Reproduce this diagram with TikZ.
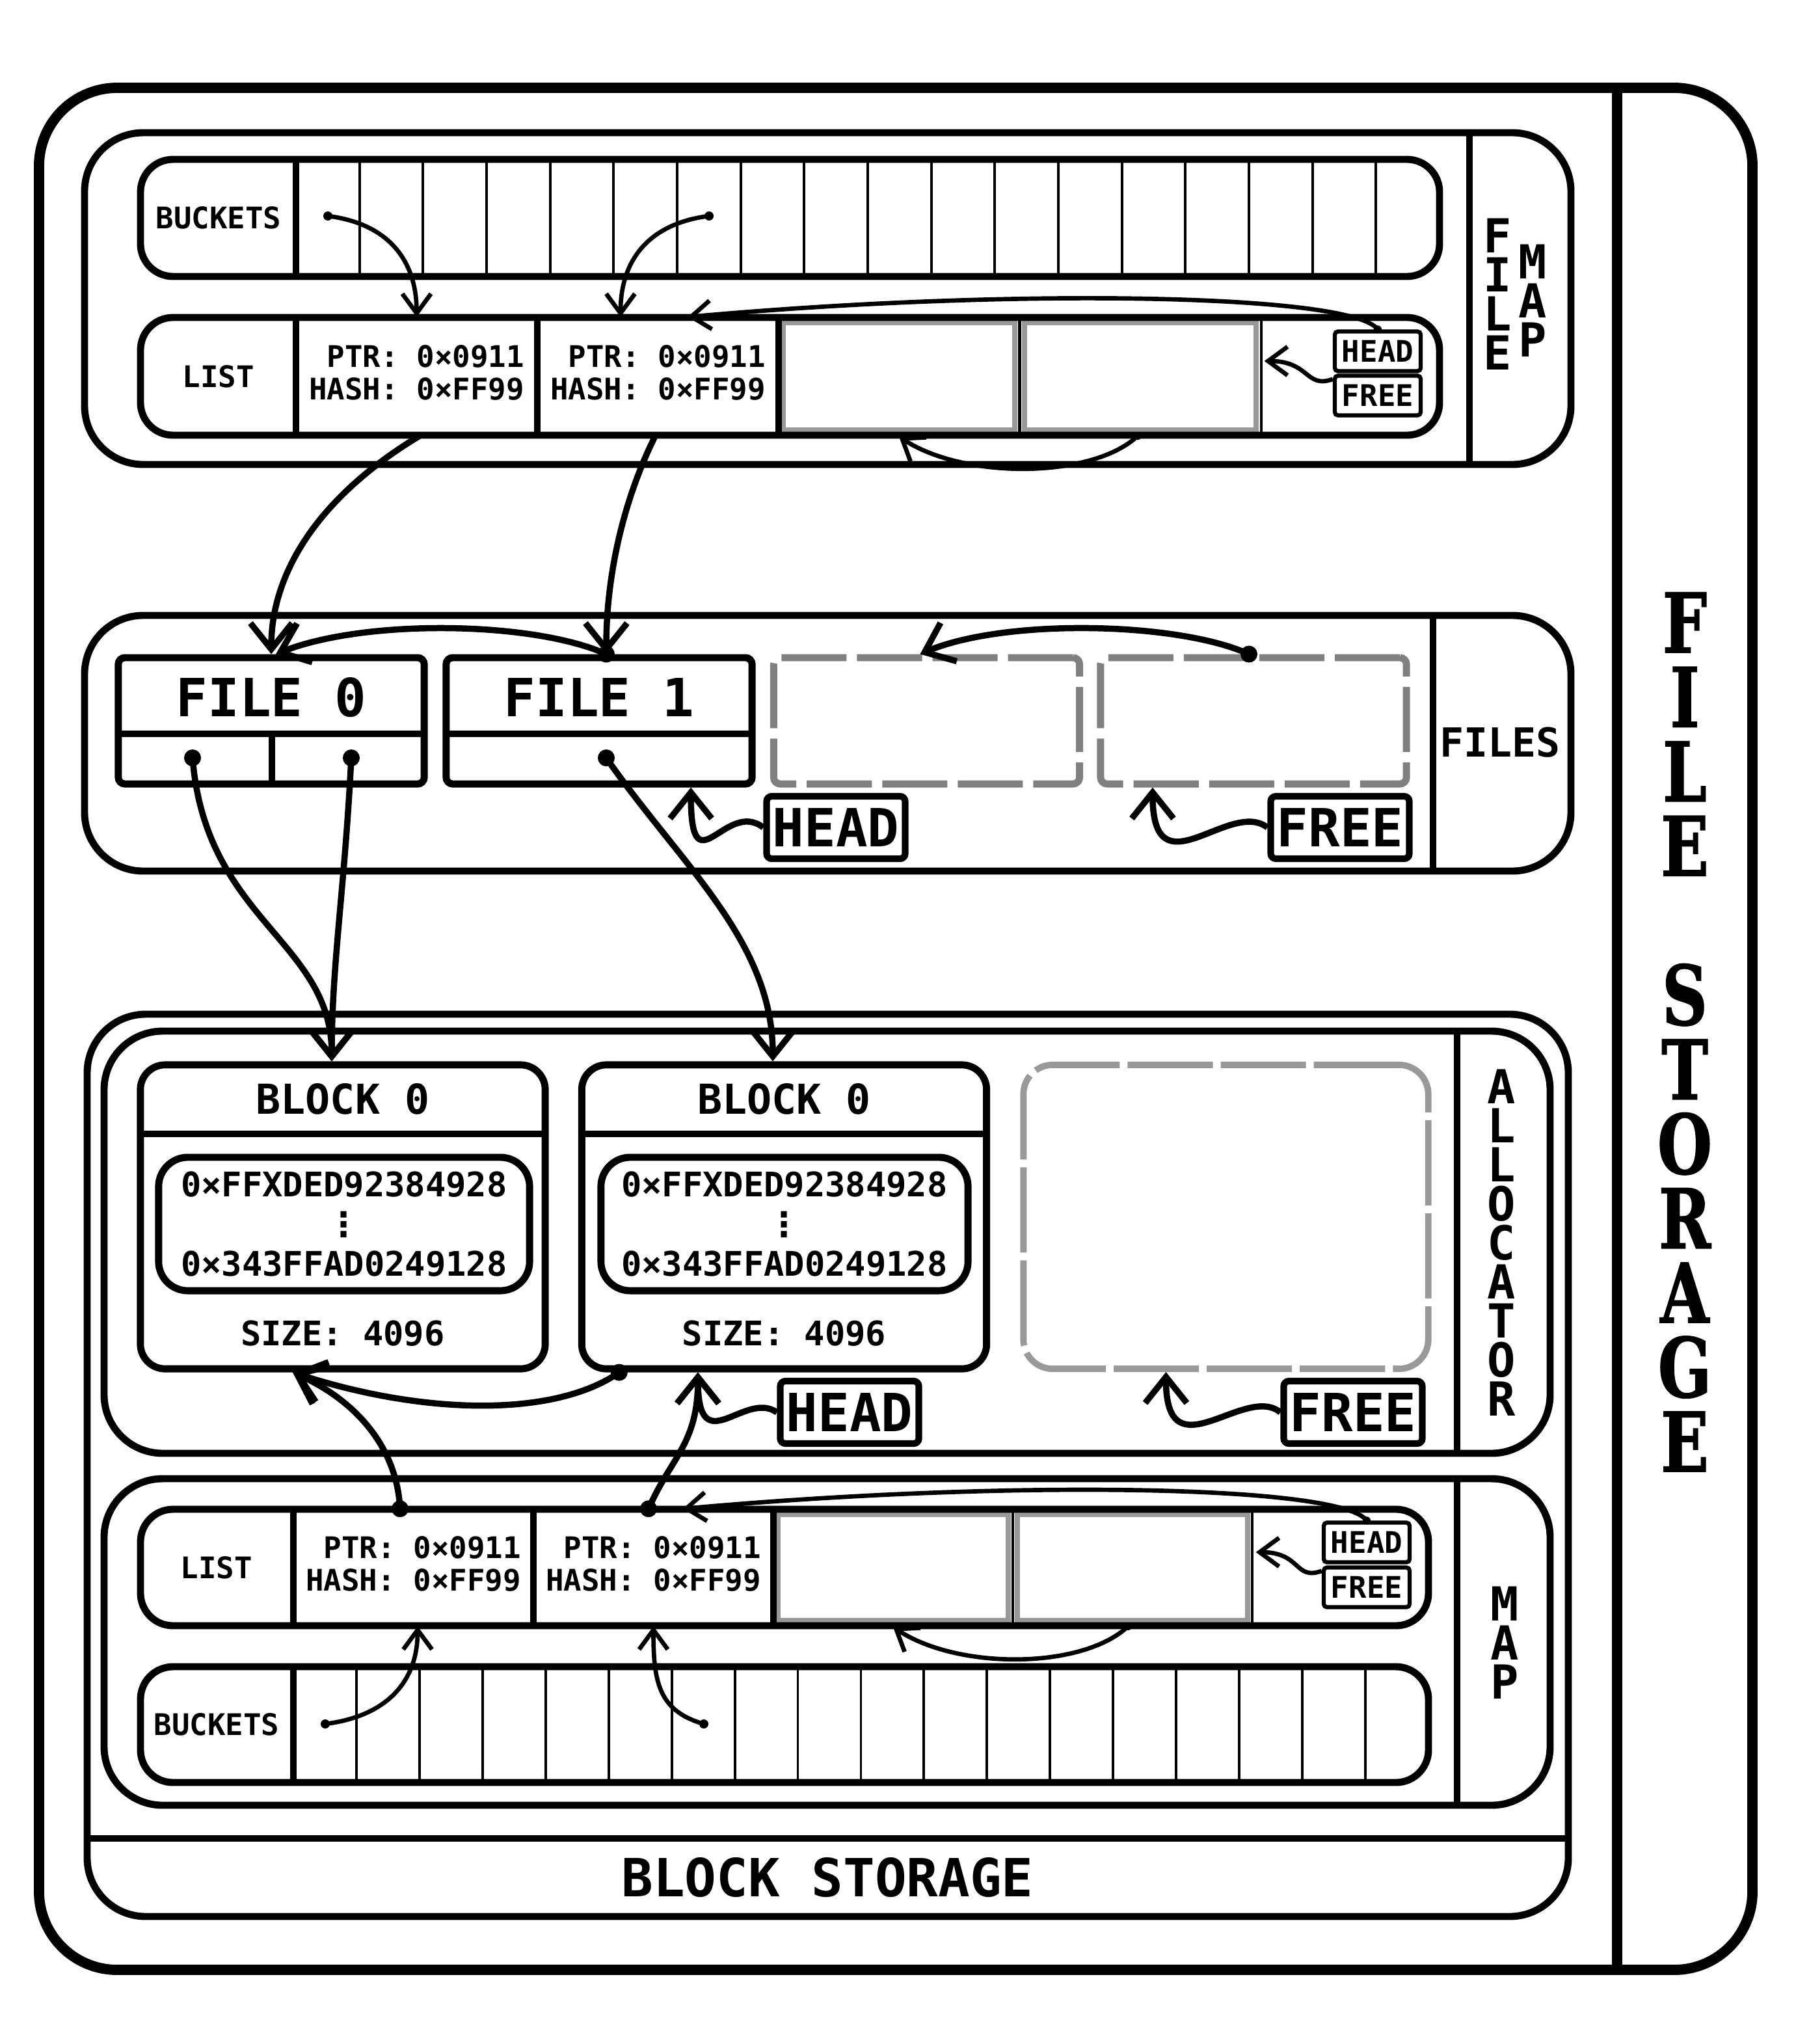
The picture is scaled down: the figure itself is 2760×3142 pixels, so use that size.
\documentclass[tikz,border=0pt]{standalone}
\usepackage{fontspec}
\setmonofont{DejaVu Sans Mono}
\newfontfamily\storagefont{DejaVu Serif}[FakeStretch=0.76,FakeBold=1.2]
\newfontfamily\symfont{DejaVu Sans}
\usetikzlibrary{arrows.meta,calc,positioning}

\newcommand{\fsmall}{\ttfamily\bfseries\fontsize{13}{14.2}\selectfont}
\newcommand{\faddr}{\ttfamily\bfseries\fontsize{14.8}{17.4}\selectfont}
\newcommand{\fblock}{\ttfamily\bfseries\fontsize{18}{20}\selectfont}
\newcommand{\fbig}{\ttfamily\bfseries\fontsize{23}{26}\selectfont}
\newcommand{\fvert}{\ttfamily\bfseries\fontsize{20.5}{17.07}\selectfont}
\newcommand{\flabel}{\ttfamily\bfseries\fontsize{17.5}{20}\selectfont}
\newcommand{\fstore}{\storagefont\bfseries\fontsize{36}{32.55}\selectfont}

\tikzstyle{storebox}=[draw,line width=4.5pt,rounded corners=1.2cm]
\tikzstyle{section}=[draw,line width=3.1pt,rounded corners=0.9cm]
\tikzstyle{strip}=[draw,line width=3.1pt,rounded corners=0.5cm]
\tikzstyle{divider}=[line width=2.6pt]
\tikzstyle{thinsep}=[line width=1.4pt]
\tikzstyle{bucketline}=[line width=1.1pt]
\tikzstyle{cell}=[inner sep=0pt,align=right,text depth=0.12cm,font=\fsmall]
\tikzstyle{slot}=[draw=gray!80,line width=2.3pt,inner sep=0pt]
\tikzstyle{tag}=[draw,line width=1.8pt,rounded corners=0.05cm,inner sep=0pt,minimum width=1.32cm,minimum height=0.61cm,font=\fsmall]
\tikzstyle{bigtag}=[draw,line width=2.9pt,rounded corners=0.08cm,inner sep=0pt,minimum width=2.13cm,minimum height=0.96cm,font=\fbig]
\tikzstyle{filebox}=[draw,line width=3.1pt,rounded corners=0.1cm,inner sep=0pt,minimum width=4.7cm,minimum height=1.94cm]
\tikzstyle{fileslot}=[filebox,draw=gray,dash pattern=on 1cm off 0.16cm]
\tikzstyle{blockbox}=[draw,line width=3.1pt,rounded corners=0.38cm,inner sep=0pt,minimum width=6.22cm,minimum height=4.67cm]
\tikzstyle{blockslot}=[blockbox,draw=gray!80,line width=2.8pt,dash pattern=on 1.31cm off 0.12cm,rounded corners=0.45cm]
\tikzstyle{addr}=[draw,line width=3.1pt,rounded corners=0.45cm,inner sep=0pt,minimum height=2.05cm,align=center,font=\faddr]
\tikzstyle{vlabel}=[inner sep=0pt,anchor=north,align=center,font=\fvert]
\tikzstyle{storelabel}=[inner sep=0pt,anchor=north,align=center,font=\fstore]

\begin{document}
\begin{tikzpicture}[x=0.01cm,y=-0.01cm,
  ptr/.style={line width=1.9pt,-{Straight Barb[length=0.3cm,width=0.44cm]}},
  bigptr/.style={line width=2.7pt,-{Straight Barb[length=0.4cm,width=0.64cm]}}]
\useasboundingbox (0,0) rectangle (2760,3142);

% file storage
\draw[storebox] (60,135) rectangle (2694,3028);
\draw[line width=4.5pt] (2486,135) -- (2486,3028);
\node[storelabel] (storeLbl) at (2590,910) {F\\I\\L\\E\\[1.144cm]S\\T\\O\\R\\A\\G\\E};

% file map
\draw[section] (130,204) rectangle (2415,714);
\draw[line width=3.1pt] (2259,204) -- (2259,714);
\node[vlabel] (fmFileLbl) at (2302,335) {F\\I\\L\\E};
\node[vlabel] (fmMapLbl) at (2356,375) {M\\A\\P};

\draw[strip] (216,245) rectangle (2213,425);
\draw[divider] (455,245) -- (455,425);
\foreach \i in {1,...,17}
  \draw[bucketline] ({455+\i*97.67},245) -- ({455+\i*97.67},425);
\node[font=\fsmall] (fmBkLbl) at (336,335) {BUCKETS};
\coordinate (fmBk1) at (504,332);
\coordinate (fmBk7) at (1090,332);

\node[slot,minimum width=3.55cm,minimum height=1.65cm] (fmC) at (1382,578.5) {};
\node[slot,minimum width=3.55cm,minimum height=1.65cm] (fmD) at (1753,578.5) {};
\draw[strip] (216,488) rectangle (2213,669);
\draw[divider] (455,488) -- (455,669) (826,488) -- (826,669) (1197,488) -- (1197,669);
\draw[thinsep] (1567.5,488) -- (1567.5,669) (1939,488) -- (1939,669);
\node[font=\fsmall] (fmListLbl) at (336,578.5) {LIST};
\node[cell,minimum width=3.71cm,minimum height=1.81cm] (fmA) at (640.5,578.5) {PTR: 0×0911\\HASH: 0×FF99};
\node[cell,minimum width=3.71cm,minimum height=1.81cm] (fmB) at (1011.5,578.5) {PTR: 0×0911\\HASH: 0×FF99};
\node[tag] (fmHead) at (2118,540) {HEAD};
\node[tag] (fmFree) at (2118,608) {FREE};
\coordinate (fmDdot) at ([xshift=-0.04cm,yshift=-0.05cm]fmD.south);

\fill (fmBk1) circle (0.07cm);
\fill (fmBk7) circle (0.07cm);
\fill (fmHead.north) circle (0.06cm);
\fill (fmDdot) circle (0.06cm);
\draw[ptr] (fmBk1) .. controls +(95,12) and +(0,-85) .. (fmA.north);
\draw[ptr] (fmBk7) .. controls +(-95,12) and +(0,-85) .. ([xshift=-0.575cm]fmB.north);
\draw[ptr] (fmHead.north) .. controls +(-40,-55) and +(500,-45) .. ([xshift=0.455cm]fmB.north);
\draw[ptr] (fmFree.160) .. controls +(-42,15) and +(70,0) .. ([xshift=0.09cm,yshift=0.235cm]fmD.east);
\draw[ptr] (fmDdot) .. controls +(-70,66) and +(100,66) .. ([yshift=-0.06cm]fmC.south);

% files
\draw[section] (130,946) rectangle (2415,1339);
\draw[line width=3.1pt] (2203,946) -- (2203,1339);
\node[font=\flabel] (filesLbl) at (2306,1141) {FILES};
\node[filebox] (file0) at (417,1108) {};
\node[filebox] (file1) at (921,1108) {};
\node[fileslot] (fslot1) at (1424.5,1108) {};
\node[fileslot] (fslot2) at (1927,1108) {};
\draw[line width=3.1pt] (182,1128) -- (652,1128) (686,1128) -- (1156,1128) (418,1128) -- (418,1205);
\node[font=\fbig] (file0T) at (417,1072) {FILE 0};
\node[font=\fbig] (file1T) at (921,1072) {FILE 1};
\node[bigtag] (fsHead) at (1285,1272) {HEAD};
\node[bigtag] (fsFree) at (2060,1272) {FREE};
\coordinate (f0a) at (296,1165);
\coordinate (f0b) at (540,1165);
\coordinate (f1c) at (932,1165);
\coordinate (f1top) at ([xshift=0.11cm]file1.north);
\coordinate (s2top) at ([xshift=-0.07cm]fslot2.north);

\draw[bigptr] ([xshift=0.05cm]fmA.south) .. controls +(-150,90) and +(0,-130) .. (file0.north);
\draw[bigptr] ([xshift=-0.04cm]fmB.south) .. controls +(-45,90) and +(0,-130) .. (f1top);
\foreach \p in {f0a,f0b,f1c,f1top,s2top}
  \fill (\p) circle (0.13cm);
\draw[bigptr] (f1top) .. controls +(-110,-50) and +(140,-55) .. ([xshift=0.07cm]file0.north);
\draw[bigptr] (s2top) .. controls +(-110,-50) and +(130,-55) .. ([xshift=-0.1cm]fslot1.north);
\draw[bigptr] (fsHead.west) .. controls +(-58,-45) and +(0,160) .. ([xshift=1.41cm]file1.south);
\draw[bigptr] (fsFree.west) .. controls +(-58,-45) and +(0,165) .. ([xshift=-1.55cm]fslot2.south);

% block storage
\draw[section] (134,1559) rectangle (2411,2946);
\draw[line width=3.1pt] (134,2826) -- (2411,2826);
\node[font=\fbig] (bsLbl) at (1272,2886) {BLOCK STORAGE};

% allocator
\draw[section] (160,1585) rectangle (2383,2234);
\draw[line width=3.1pt] (2240,1585) -- (2240,2234);
\node[vlabel] (allocLbl) at (2308,1643) {A\\L\\L\\O\\C\\A\\T\\O\\R};

\node[blockbox] (blk0) at (527,1870.5) {};
\draw[line width=3.1pt] (216,1743) -- (838,1743);
\node[font=\fblock] (blk0T) at (527,1689) {BLOCK 0};
\node[addr,minimum width=5.7cm] (blk0A) at (529,1881.5) {0×FFXDED92384928\\{\symfont ⋮}\\0×343FFAD0249128};
\node[font=\faddr] (blk0S) at (527,2050) {SIZE: 4096};

\node[blockbox] (blk1) at (1205.5,1870.5) {};
\draw[line width=3.1pt] (896,1743) -- (1515,1743);
\node[font=\fblock] (blk1T) at (1205.5,1689) {BLOCK 0};
\node[addr,minimum width=5.64cm] (blk1A) at (1206,1881.5) {0×FFXDED92384928\\{\symfont ⋮}\\0×343FFAD0249128};
\node[font=\faddr] (blk1S) at (1205.5,2050) {SIZE: 4096};

\node[blockslot] (blkFree) at (1884.5,1870.5) {};
\node[bigtag] (alHead) at (1306,2171) {HEAD};
\node[bigtag] (alFree) at (2080,2171) {FREE};

\draw[bigptr] (f0a) .. controls +(20,250) and +(0,-185) .. ([xshift=-0.17cm]blk0.north);
\draw[bigptr] (f0b) .. controls +(-10,200) and +(0,-150) .. ([xshift=-0.17cm]blk0.north);
\draw[bigptr] (f1c) .. controls +(115,165) and +(0,-185) .. ([xshift=-0.175cm]blk1.north);

% map
\draw[section] (160,2273) rectangle (2383,2775);
\draw[line width=3.1pt] (2240,2273) -- (2240,2775);
\node[vlabel] (mapLbl) at (2313,2438) {M\\A\\P};

\node[slot,minimum width=3.53cm,minimum height=1.63cm] (bmC) at (1373,2409.5) {};
\node[slot,minimum width=3.53cm,minimum height=1.63cm] (bmD) at (1741,2409.5) {};
\draw[strip] (216,2320) rectangle (2196,2499);
\draw[divider] (451,2320) -- (451,2499) (820,2320) -- (820,2499) (1189,2320) -- (1189,2499);
\draw[thinsep] (1557,2320) -- (1557,2499) (1925,2320) -- (1925,2499);
\node[font=\fsmall] (bmListLbl) at (333,2409.5) {LIST};
\node[cell,minimum width=3.69cm,minimum height=1.79cm] (bmA) at (635.5,2409.5) {PTR: 0×0911\\HASH: 0×FF99};
\node[cell,minimum width=3.69cm,minimum height=1.79cm] (bmB) at (1004.5,2409.5) {PTR: 0×0911\\HASH: 0×FF99};
\node[tag] (bmHead) at (2101,2371) {HEAD};
\node[tag] (bmFree) at (2101,2440) {FREE};

\draw[strip] (216,2562) rectangle (2196,2740);
\draw[divider] (451,2562) -- (451,2740);
\foreach \i in {1,...,17}
  \draw[bucketline] ({451+\i*96.94},2562) -- ({451+\i*96.94},2740);
\node[font=\fsmall] (bmBkLbl) at (333,2651) {BUCKETS};
\coordinate (bmBk1) at (500,2650);
\coordinate (bmBk7) at (1082,2650);
\coordinate (bmDdot) at ([xshift=-0.07cm,yshift=-0.05cm]bmD.south);
\coordinate (bmAdot) at ([xshift=-0.205cm]bmA.north);
\coordinate (bmBdot) at ([xshift=-0.075cm]bmB.north);
\coordinate (blk1dot) at ([xshift=-2.535cm]blk1.south);

\fill (bmBk1) circle (0.07cm);
\fill (bmBk7) circle (0.07cm);
\fill (bmHead.north) circle (0.06cm);
\fill (bmDdot) circle (0.06cm);
\draw[ptr] (bmBk1) .. controls +(95,-12) and +(0,85) .. ([xshift=0.065cm]bmA.south);
\draw[ptr] (bmBk7) .. controls +(-70,-20) and +(0,85) .. (bmB.south);
\draw[ptr] (bmHead.north) .. controls +(-40,-55) and +(500,-45) .. ([xshift=0.45cm]bmB.north);
\draw[ptr] (bmFree.160) .. controls +(-42,15) and +(70,0) .. ([xshift=0.09cm,yshift=0.235cm]bmD.east);
\draw[ptr] (bmDdot) .. controls +(-70,66) and +(100,66) .. ([yshift=-0.06cm]bmC.south);

% map and allocator pointers
\foreach \p in {bmAdot,bmBdot,blk1dot}
  \fill (\p) circle (0.13cm);
\draw[bigptr] (bmAdot) .. controls +(-5,-100) and +(90,40) .. ([xshift=-0.77cm]blk0.south);
\draw[bigptr] (blk1dot) .. controls +(-100,70) and +(200,65) .. ([xshift=-0.77cm]blk0.south);
\draw[bigptr] (bmBdot) .. controls +(35,-80) and +(0,110) .. ([xshift=-1.325cm]blk1.south);
\draw[bigptr] (alHead.west) .. controls +(-50,-35) and +(0,140) .. ([xshift=-1.325cm]blk1.south);
\draw[bigptr] (alFree.west) .. controls +(-55,-45) and +(0,160) .. ([xshift=-0.92cm]blkFree.south);
\end{tikzpicture}
\end{document}
